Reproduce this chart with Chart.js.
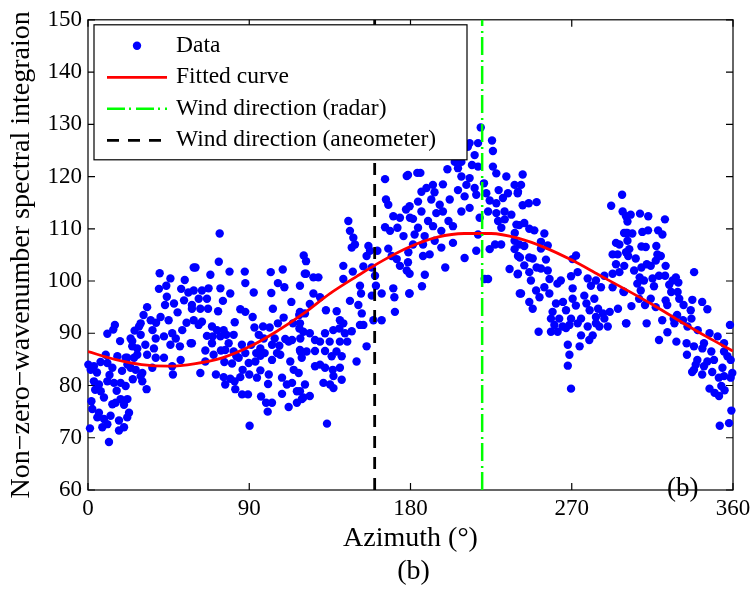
<!DOCTYPE html>
<html><head><meta charset="utf-8">
<script src="https://cdn.jsdelivr.net/npm/chart.js@4/dist/chart.umd.min.js"></script>
<style>html,body{margin:0;padding:0;background:#fff;}canvas{display:block;}</style>
</head><body>
<canvas id="c" width="756" height="591"></canvas>
<script>
// ---- data ----
const samples = [
[40,101.5],[59,102.6],[43.7,99.1],[39.6,98.5],[54,100.2],[44,97],[33,95],[43,95.4],[48,95.7],[53.6,96.3],[50,94],[58,94.7],[40.5,93.1],[35,92.5],[28.5,91.3],[29.4,91.9],[15,91.6],[14.1,90.7],[10.8,89.9],[17.9,88.5],[23.8,89],[24.7,88.5],[29.4,89.7],[36,90.6],[37.8,89],[42.4,89.4],[47,90],[52.6,90.6],[49,89],[46,87.8],[32,87.8],[36.8,87.1],[51.3,87.5],[57.3,88.1],[9.9,85.9],[16.4,85.6],[21,85.3],[25.7,85.3],[27.5,85.9],[33,85.9],[37.8,85.3],[42.4,85.3],[35.9,83.4],[51.7,84.9],[47,83.7],[47.4,82.1],[0.2,84],[3.3,83.7],[1.5,83],[10.8,84.3],[13.6,83.4],[22,84],[23.8,83.4],[26.6,83],[29.4,81.8],[30.3,80.8],[32.7,79.3],[3.3,80.8],[6.1,80.2],[10.8,80.8],[14.5,80.5],[18.2,80.5],[21,79.9],[7.1,78.9],[8.9,77.7],[1.9,77],[18.2,77.4],[22,77.4],[13.6,76.4],[15.4,76.7],[20.1,76.3],[2.4,75.5],[6.1,74.8],[5.2,73.9],[8.9,73.6],[12.6,74.2],[22.9,74.8],[21.9,73.9],[17.3,73.3],[10.8,72.6],[8,72],[20.1,72],[17.3,71.4],[1.1,71.8],[11.7,69.2],[24.7,87.5],[27.5,87.1],[21.9,85.3],[30.3,82.4],
[5,82.5],[7,84.5],[12,82],[19,82.8],[25,81.2],[4,79.2],[16,79],[38,92],[45,92.5],[55,92],[31,93.5],[26,90.5],[56,97.8],[46,100.5],[52,98.5],
[73.5,109.1],[60,102.6],[73,103.7],[68.3,101.2],[79,101.8],[87.5,101.8],[87.8,99.6],[102,101.7],[108.7,102.2],[92.5,97.8],[102.3,97.7],[106,99.6],[109.6,98.8],[120.4,104.9],[121,101.4],[113.5,96],[79.4,97.6],[73.9,98.6],[67.3,98.6],[63.6,98.2],[59,98.2],[61.8,96.6],[66.4,96.6],[75.3,96.2],[58,95.4],[62.7,94.7],[67,94.7],[72.6,94.2],[85,94.6],[87.8,94.1],[91.9,93.1],[103.2,94.7],[109.2,93],[117.9,93.5],[59,92.5],[63.6,92.2],[61.8,91.6],[69.2,91.3],[72,90.6],[75.7,90.6],[81.9,92.1],[92.9,91.1],[97.7,91.3],[101.4,91.1],[106,91.9],[114.4,91.9],[118,90.9],[66.4,89.5],[69.6,89.4],[73.9,89.4],[77.2,89.7],[81.3,89.7],[95.3,89.7],[98.1,89],[104.2,89],[110.1,88.9],[113.9,88.7],[118.5,89],[58,88.1],[69.2,88.1],[78.5,88.1],[85.9,87.8],[91.1,87.8],[96.2,87.1],[102.7,87.8],[106.8,87.6],[112,88.4],[65.5,86.7],[74.2,86.7],[76.6,86.8],[81.3,86.5],[87.8,86.2],[93.9,86.2],[98.6,86.2],[105.5,86.2],[107.3,85.9],[118.5,86.5],[65.5,84.6],[70.1,85.9],[76.1,84.5],[80.4,84.2],[82.8,85.6],[84.1,85.3],[89.7,84.3],[93.4,84.6],[96.2,85.7],[102.7,84.9],[112.9,84.6],[114.8,83],[117.6,82.4],[62.7,82.4],[71.4,82.1],[75.7,81.6],[79.4,81.3],[81.8,80.8],[85,81.6],[86.3,83],[90,82.1],[94.3,81.5],[96.2,82.9],[100.9,82.1],[100.5,80.3],[108.3,81.5],[111,80.2],[113.9,80.5],[116.6,78.9],[76.6,80.2],[82.2,79.3],[86,78.3],[89.3,78.3],[96.6,77.9],[102.7,76.7],[99.4,76.7],[108.3,78.4],[112,75.9],[116.6,76.7],[119.4,77.4],[100.3,75],[90.2,72.3],
[165.8,119.5],[177.9,120.1],[166.3,115.6],[167.6,114.6],[170.4,112.4],[174.1,112.1],[177.5,113.7],[179.7,112.1],[145.3,111.5],[165.8,110.3],[168.6,109.6],[172.7,110.2],[176.1,108.6],[146.2,109.6],[148.1,108.3],[149,107],[147.2,106.4],[156.5,106.7],[157.4,105.8],[161.5,105.8],[155.5,104.8],[167.6,106.2],[169.5,104.8],[172.3,104.2],[174.1,102.9],[178.8,105.5],[177.9,102],[121.7,103.8],[121.7,101.4],[125.8,100.7],[128.6,100.7],[142.5,102.9],[147.8,101.8],[153.7,102.8],[158.4,102.6],[160.2,101],[118.3,99.1],[125.8,97.6],[129.5,96.9],[142.5,100.4],[151.8,99.1],[152.4,97.6],[158.4,97.2],[160.7,99.1],[163.9,97.6],[170.4,98.6],[171,96.9],[179.3,97.6],[171.3,94.1],[123.8,95.6],[146.2,96.2],[150.9,95.4],[118.3,94.1],[121.1,93.8],[132.8,94.4],[138.8,94.2],[152.8,93.8],[159.3,92.5],[163.9,92.5],[140.6,92.5],[142.5,91.9],[151.8,91.6],[153.7,91.6],[147.2,90.4],[118.3,91.9],[120.2,90.3],[123.8,90],[132.3,90],[136.9,90.6],[140.3,90.9],[143.4,90],[126.7,88.7],[129.5,88.4],[134.9,88.4],[140.6,88.4],[144.7,88.4],[155.5,87.5],[118.3,86.8],[122,86.5],[126.7,86.6],[132.3,86.6],[136,85.6],[138.7,86.5],[141.6,85.6],[119.3,85.3],[126.7,83.7],[129.5,84],[132.3,83.4],[136.6,83],[140.6,83.4],[149.9,84.6],[137,81.8],[131.4,80.5],[135.1,80.2],[137,79.5],[141.6,81.1],[121.1,80.2],[118.3,78.9],[120.2,77.7],[123.8,78],[133.4,72.7],
[219.2,129.4],[217.7,126.4],[225.5,126.9],[226,124.9],[213,126.4],[212,125.7],[215.8,124.1],[204.7,122.8],[206.5,121.6],[208.4,122.8],[214.3,122.2],[217.7,121.9],[226,121.9],[227.9,120.6],[233.5,120],[208.4,120],[213,119.7],[200.6,121.4],[178.6,120.3],[183.8,120.7],[185.5,120.7],[198.1,118.5],[192.5,118.4],[188.9,117.8],[186.1,117.1],[193.4,117],[206.5,117.4],[211.2,118.4],[215.8,117.8],[221,118.7],[222.3,116.8],[229.2,117.4],[234.4,116.8],[238.1,118.4],[240,117.1],[201.9,115.6],[210.2,116.2],[216.7,116.5],[224.2,115.4],[227.9,114.9],[231.6,115.9],[184.2,115.2],[191.6,115.6],[196.3,114.6],[179.5,114.3],[186.1,113.3],[194.4,113],[198.1,113.3],[208.4,113.3],[213,114],[223.3,113.3],[227.9,113],[232.5,113.3],[236.3,112.7],[181.4,111.9],[189.8,111.5],[201.2,111.5],[218.6,112.1],[228.9,111.5],[232.6,111.8],[239.1,110.8],[184.2,110.2],[192.6,110.5],[197.2,109.6],[203.7,110.5],[217.7,108.9],[230.7,110.2],[238.2,109.2],[182.3,108.9],[187.9,108.6],[193.5,107.7],[181.4,107],[187,107],[197.2,106.4],[203.7,107.3],[227.2,107],[230.6,107],[238.1,107.7],[187,104.8],[190.7,105.1],[210.2,104.4],[216.7,105.8],[224.2,106.1],[238.1,106.1],[240,104.8],[178.6,103.6],[179.5,101.4],[188,101.2],[199.4,102.6],[235.3,102.3],[240,101.4],[223.3,100.4],[221.4,100.4],[186.4,99],[179.5,97.6],[241,97.6],
[242.6,120.4],[241.7,118.4],[239.8,116.8],[242.6,114.5],[246,114.9],[250.4,115.1],[240.7,110.7],[243.5,111.1],[246.3,110],[249.1,109.7],[254.7,109.1],[252.8,107.5],[256.6,106.8],[252.8,106.2],[240.7,107],[243.5,106.7],[241.1,104.5],[246.3,104.5],[248.2,104.3],[255.6,104.1],[243.5,103],[250.4,102.6],[252.8,102.4],[246.3,101.7],[256.6,102],[272.4,104.9],[270.4,104.2],[239.8,101.3],[247.2,100.1],[257.6,100.4],[263.9,100.1],[262,99.5],[269.6,100.9],[273.3,101.7],[278.9,100.5],[283.5,100.1],[288.2,101],[241.7,97.6],[250.1,98.2],[254.7,98.8],[252,96.9],[257.5,97.6],[270.5,98.6],[280.7,99.1],[286.3,98.8],[292.8,98.8],[298.8,98],[246.3,96],[248.2,94.7],[261.2,95.7],[265.1,96],[270.5,96.6],[277,97.2],[282.6,96.6],[272.3,95.3],[278.2,95.7],[259.3,94.1],[266.8,94.4],[280,94.4],[284.7,94.7],[287.4,93.8],[291.2,94.1],[295.8,94.7],[258.4,92.8],[263,92.8],[269.6,92.8],[275.2,92.8],[283.5,93.1],[288.2,92.8],[300.3,91.9],[260.3,91.6],[264.9,91.3],[268.7,91.6],[273.3,91.9],[278.9,91.3],[285.4,91.3],[290.1,91.3],[258.4,90.3],[262.1,90.3],[266.8,91],[283.5,91.9],[251.5,90.3],[281.7,89.6],[275.2,89.6],[279.8,88.7],[274.4,87.5],[267.8,87.8],[268.7,85.9],[267.8,83.8],[269.6,79.4],[298.1,116.5],[292,114.4],[298.4,113.3],[300.3,112.4],[300.3,109.2],[294.7,107.3],[296.6,107],[292.8,105.1],[295.6,105.1],[300.3,105.5],[294.7,103.2],[299.3,102.9],[292.8,101.4],[296.6,101.7],
[302.9,112.7],[308.1,112.9],[312.7,112.4],[322,111.8],[301.1,111.4],[299.2,109.2],[301.1,109.2],[303.8,109.1],[309.4,109.4],[312.6,109.7],[318.2,109.7],[320.6,108.9],[301.1,107.7],[302.1,106.1],[308.9,106.6],[311.3,106.5],[317.2,106.7],[301.5,104.8],[305.7,104.3],[317.8,105.1],[319.7,104.8],[316.9,103.9],[308.9,102.6],[311.9,103.2],[314.1,102.9],[322.4,102.9],[304.8,102],[338.3,101.7],[307.9,100.7],[315.1,100.5],[318.7,101],[322.1,101],[328.1,100.7],[326.3,100.1],[306.6,99.5],[310.3,100.1],[315.9,99],[324.4,99.3],[329.5,99.7],[299.2,97.9],[308.5,98.2],[325.5,97.9],[329.1,97.9],[307.6,96.6],[314.1,96.6],[322.4,96.3],[330,96.6],[337.3,96.4],[342.8,96],[310.9,95.4],[316.9,95],[323.3,95.4],[332.4,95.4],[345.7,94.6],[303.3,95.2],[328.8,93.5],[336.4,94.4],[326.9,92.8],[332.1,92.5],[336.8,92.8],[300.5,91.9],[311.8,91.9],[320.5,92.5],[327.3,91.9],[334.6,91.3],[340.3,90.6],[358.3,91.6],[323.4,90.2],[346.9,90],[351.4,89.4],[318.7,88.7],[328.4,88.4],[343.8,88.1],[355,88.1],[334.1,88.1],[338.2,87.5],[342.9,87.1],[347.9,86.5],[334.3,85.9],[355,86.5],[356.9,85.6],[340.1,84.9],[345.7,84.6],[349.4,84.9],[339.2,84],[358.7,84.9],[338.2,83],[343.8,83.7],[354.1,83.4],[337.2,82.6],[342.8,82.1],[348.4,82.6],[352.1,81.5],[355,81.8],[358.7,81.5],[359.6,82.4],[346.9,79.4],[349.7,78.6],[352.2,78],[353.5,79.9],[355.3,79.1],[359.1,75.2],[357.8,72.8],[352.6,72.3]
];
const curveAzimuth = [0,15,30,45,60,75,90,105,120,135,150,165,180,195,210,225,240,255,270,285,300,315,330,345,360];
const curveValue   = [86.5,85.0,84.0,83.7,84.2,85.3,87.4,90.3,93.7,97.6,100.9,104.0,106.6,108.4,109.1,109.1,108.2,106.4,104.0,101.2,98.4,95.5,92.4,89.4,86.6];
const radarDirection = 220;
const anemometerDirection = 160;
const xRange = [0, 360];
const yRange = [60, 150];
const xTicks = [0, 90, 180, 270, 360];
const yTicks = [60, 70, 80, 90, 100, 110, 120, 130, 140, 150];
const legendLabels = ['Data', 'Fitted curve', 'Wind direction (radar)', 'Wind direction (aneometer)'];
const xTitle = 'Azimuth (°)';
const yTitle = 'Non\u2212zero\u2212wavenumber spectral integraion';
const captionText = '(b)';

// ---- drawing ----
const SERIF = "'Liberation Serif','Times New Roman',serif";
const BLUE = '#0000ff', RED = '#ff0000', GREEN = '#00ff00', BLACK = '#000000';

const dsData = {label: legendLabels[0], data: samples.map(p => ({x: p[0], y: p[1]})),
  pointRadius: 4.2, pointBackgroundColor: BLUE, pointBorderColor: BLUE, pointBorderWidth: 0,
  showLine: false, order: 3, clip: false};
const dsCurve = {label: legendLabels[1], data: curveAzimuth.map((a, i) => ({x: a, y: curveValue[i]})),
  showLine: true, borderColor: RED, borderWidth: 2.8, pointRadius: 0, cubicInterpolationMode: 'monotone', order: 2};
const dsRadar = {label: legendLabels[2], data: [{x: radarDirection, y: yRange[0]}, {x: radarDirection, y: yRange[1]}],
  showLine: true, borderColor: GREEN, borderWidth: 2.5, borderDash: [18, 4, 2, 5], pointRadius: 0, order: 1};
const dsAnem = {label: legendLabels[3], data: [{x: anemometerDirection, y: yRange[0]}, {x: anemometerDirection, y: yRange[1]}],
  showLine: true, borderColor: BLACK, borderWidth: 2.8, borderDash: [12, 9], pointRadius: 0, order: 0};

const framePlugin = {
  id: 'frame',
  beforeDatasetsDraw(chart) {
    const {ctx, chartArea: a, scales: {x, y}} = chart;
    ctx.save();
    ctx.strokeStyle = BLACK; ctx.lineWidth = 1.2;
    ctx.strokeRect(a.left, a.top, a.right - a.left, a.bottom - a.top);
    ctx.beginPath();
    const tl = 7;
    xTicks.forEach(v => { const px = x.getPixelForValue(v);
      ctx.moveTo(px, a.bottom); ctx.lineTo(px, a.bottom - tl);
      ctx.moveTo(px, a.top); ctx.lineTo(px, a.top + tl); });
    yTicks.forEach(v => { const py = y.getPixelForValue(v);
      ctx.moveTo(a.left, py); ctx.lineTo(a.left + tl, py);
      ctx.moveTo(a.right, py); ctx.lineTo(a.right - tl, py); });
    ctx.stroke();
    ctx.restore();
  },
  afterDraw(chart) {
    const {ctx, chartArea: a, scales: {x, y}} = chart;
    ctx.save();
    // inner panel tag
    ctx.fillStyle = BLACK;
    ctx.font = '27px ' + SERIF;
    ctx.textAlign = 'center'; ctx.textBaseline = 'middle';
    ctx.fillText(captionText, x.getPixelForValue(332), y.getPixelForValue(60.3));
    // caption under the axis title
    ctx.font = '28px ' + SERIF;
    ctx.fillText(captionText, (a.left + a.right) / 2 + 3, 572);

    // legend box
    const L = a.left + 6, T = a.top + 5, W = 373, H = 135;
    ctx.fillStyle = '#ffffff';
    ctx.fillRect(L, T, W, H);
    ctx.strokeStyle = BLACK; ctx.lineWidth = 1.2;
    ctx.strokeRect(L, T, W, H);
    const rows = [T + 21, T + 52.5, T + 84, T + 115.5];
    const x0 = L + 13, x1 = L + 73;
    // Data marker
    ctx.fillStyle = dsData.pointBackgroundColor;
    ctx.beginPath(); ctx.arc(L + 43, rows[0], dsData.pointRadius, 0, Math.PI * 2); ctx.fill();
    [dsCurve, dsRadar, dsAnem].forEach((d, i) => {
      ctx.strokeStyle = d.borderColor; ctx.lineWidth = d.borderWidth;
      ctx.setLineDash(d.borderDash || []);
      ctx.beginPath(); ctx.moveTo(x0, rows[i + 1]); ctx.lineTo(x1, rows[i + 1]); ctx.stroke();
    });
    ctx.setLineDash([]);
    ctx.fillStyle = BLACK;
    ctx.font = '23.5px ' + SERIF;
    ctx.textAlign = 'left'; ctx.textBaseline = 'middle';
    legendLabels.forEach((t, i) => ctx.fillText(t, L + 82, rows[i]));
    ctx.restore();
  }
};

new Chart(document.getElementById('c'), {
  type: 'scatter',
  data: {datasets: [dsAnem, dsRadar, dsCurve, dsData]},
  options: {
    responsive: false, animation: false, devicePixelRatio: 1,
    layout: {padding: {left: 0, right: 23, top: 15, bottom: 0}, autoPadding: false},
    plugins: {legend: {display: false}, tooltip: {enabled: false}},
    scales: {
      x: {type: 'linear', min: xRange[0], max: xRange[1],
        afterBuildTicks: s => { s.ticks = xTicks.map(v => ({value: v})); },
        ticks: {color: BLACK, font: {family: SERIF, size: 23}, padding: 5, maxRotation: 0},
        grid: {display: false, drawTicks: false}, border: {display: false},
        title: {display: true, text: xTitle, color: BLACK, font: {family: SERIF, size: 28}, padding: {top: 0, bottom: 36}},
        afterFit: s => { s.height = 101; }},
      y: {type: 'linear', min: yRange[0], max: yRange[1],
        afterBuildTicks: s => { s.ticks = yTicks.map(v => ({value: v})); },
        ticks: {color: BLACK, font: {family: SERIF, size: 23}, padding: 6},
        grid: {display: false, drawTicks: false}, border: {display: false},
        title: {display: true, text: yTitle, color: BLACK, font: {family: SERIF, size: 28}, padding: {top: 5, bottom: 0}},
        afterFit: s => { s.width = 88; }}
    }
  },
  plugins: [framePlugin]
});
</script>
</body></html>
